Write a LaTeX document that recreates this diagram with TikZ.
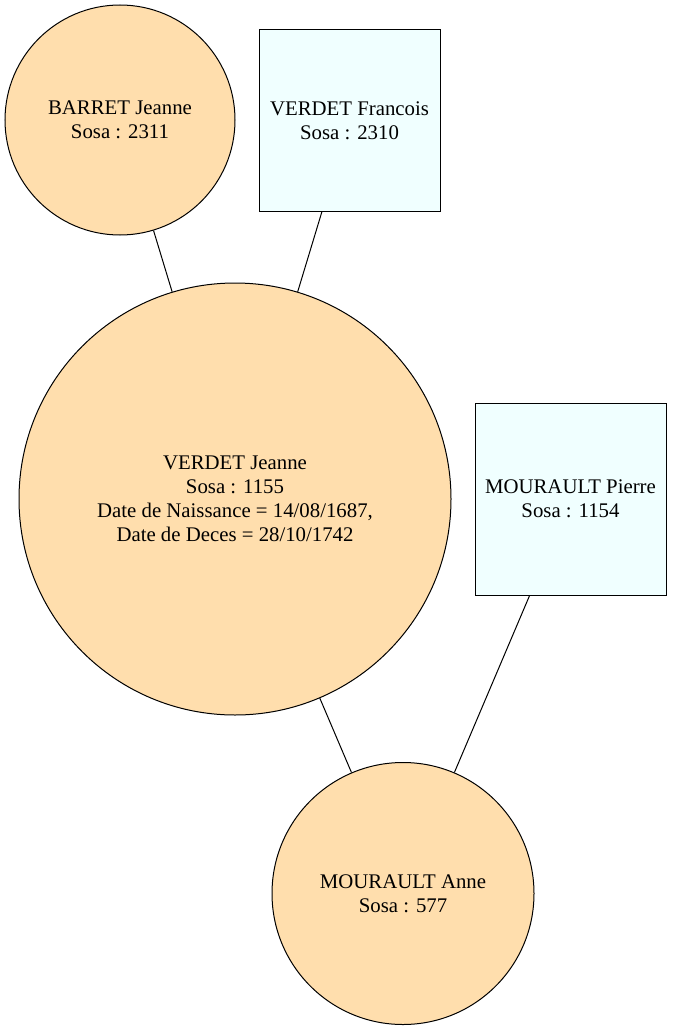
\documentclass[tikz,border=0pt]{standalone}
\usepackage{fontspec}
\setmainfont{Liberation Serif}
\definecolor{femfill}{HTML}{FFDEAD}
\definecolor{manfill}{HTML}{F0FFFF}
\begin{document}
\begin{tikzpicture}[x=0.75pt,y=-0.75pt,
  every node/.style={align=center,font=\fontsize{15.6pt}{18pt}\selectfont,inner sep=0pt,draw=black,line width=0.75pt},
  fem/.style={circle,fill=femfill},
  man/.style={rectangle,fill=manfill},
  link/.style={draw=black,line width=0.75pt}]
\useasboundingbox (0,0) rectangle (672,1031);
\node[fem,minimum size=230*0.75pt] (barret) at (120,120) {BARRET Jeanne\\Sosa : 2311};
\node[man,minimum width=181*0.75pt,minimum height=181*0.75pt] (francois) at (349.5,120.5) {VERDET Francois\\Sosa : 2310};
\node[fem,minimum size=432*0.75pt] (jeanne) at (235,499) {VERDET Jeanne\\Sosa : 1155\\Date de Naissance = 14/08/1687,\\Date de Deces = 28/10/1742};
\node[man,minimum width=191*0.75pt,minimum height=192*0.75pt] (pierre) at (570.5,499) {MOURAULT Pierre\\Sosa : 1154};
\node[fem,minimum size=262*0.75pt] (anne) at (403,893.5) {MOURAULT Anne\\Sosa : 577};
\draw[link] (barret) -- (jeanne);
\draw[link] (francois) -- (jeanne);
\draw[link] (jeanne) -- (anne);
\draw[link] (pierre) -- (anne);
\end{tikzpicture}
\end{document}
